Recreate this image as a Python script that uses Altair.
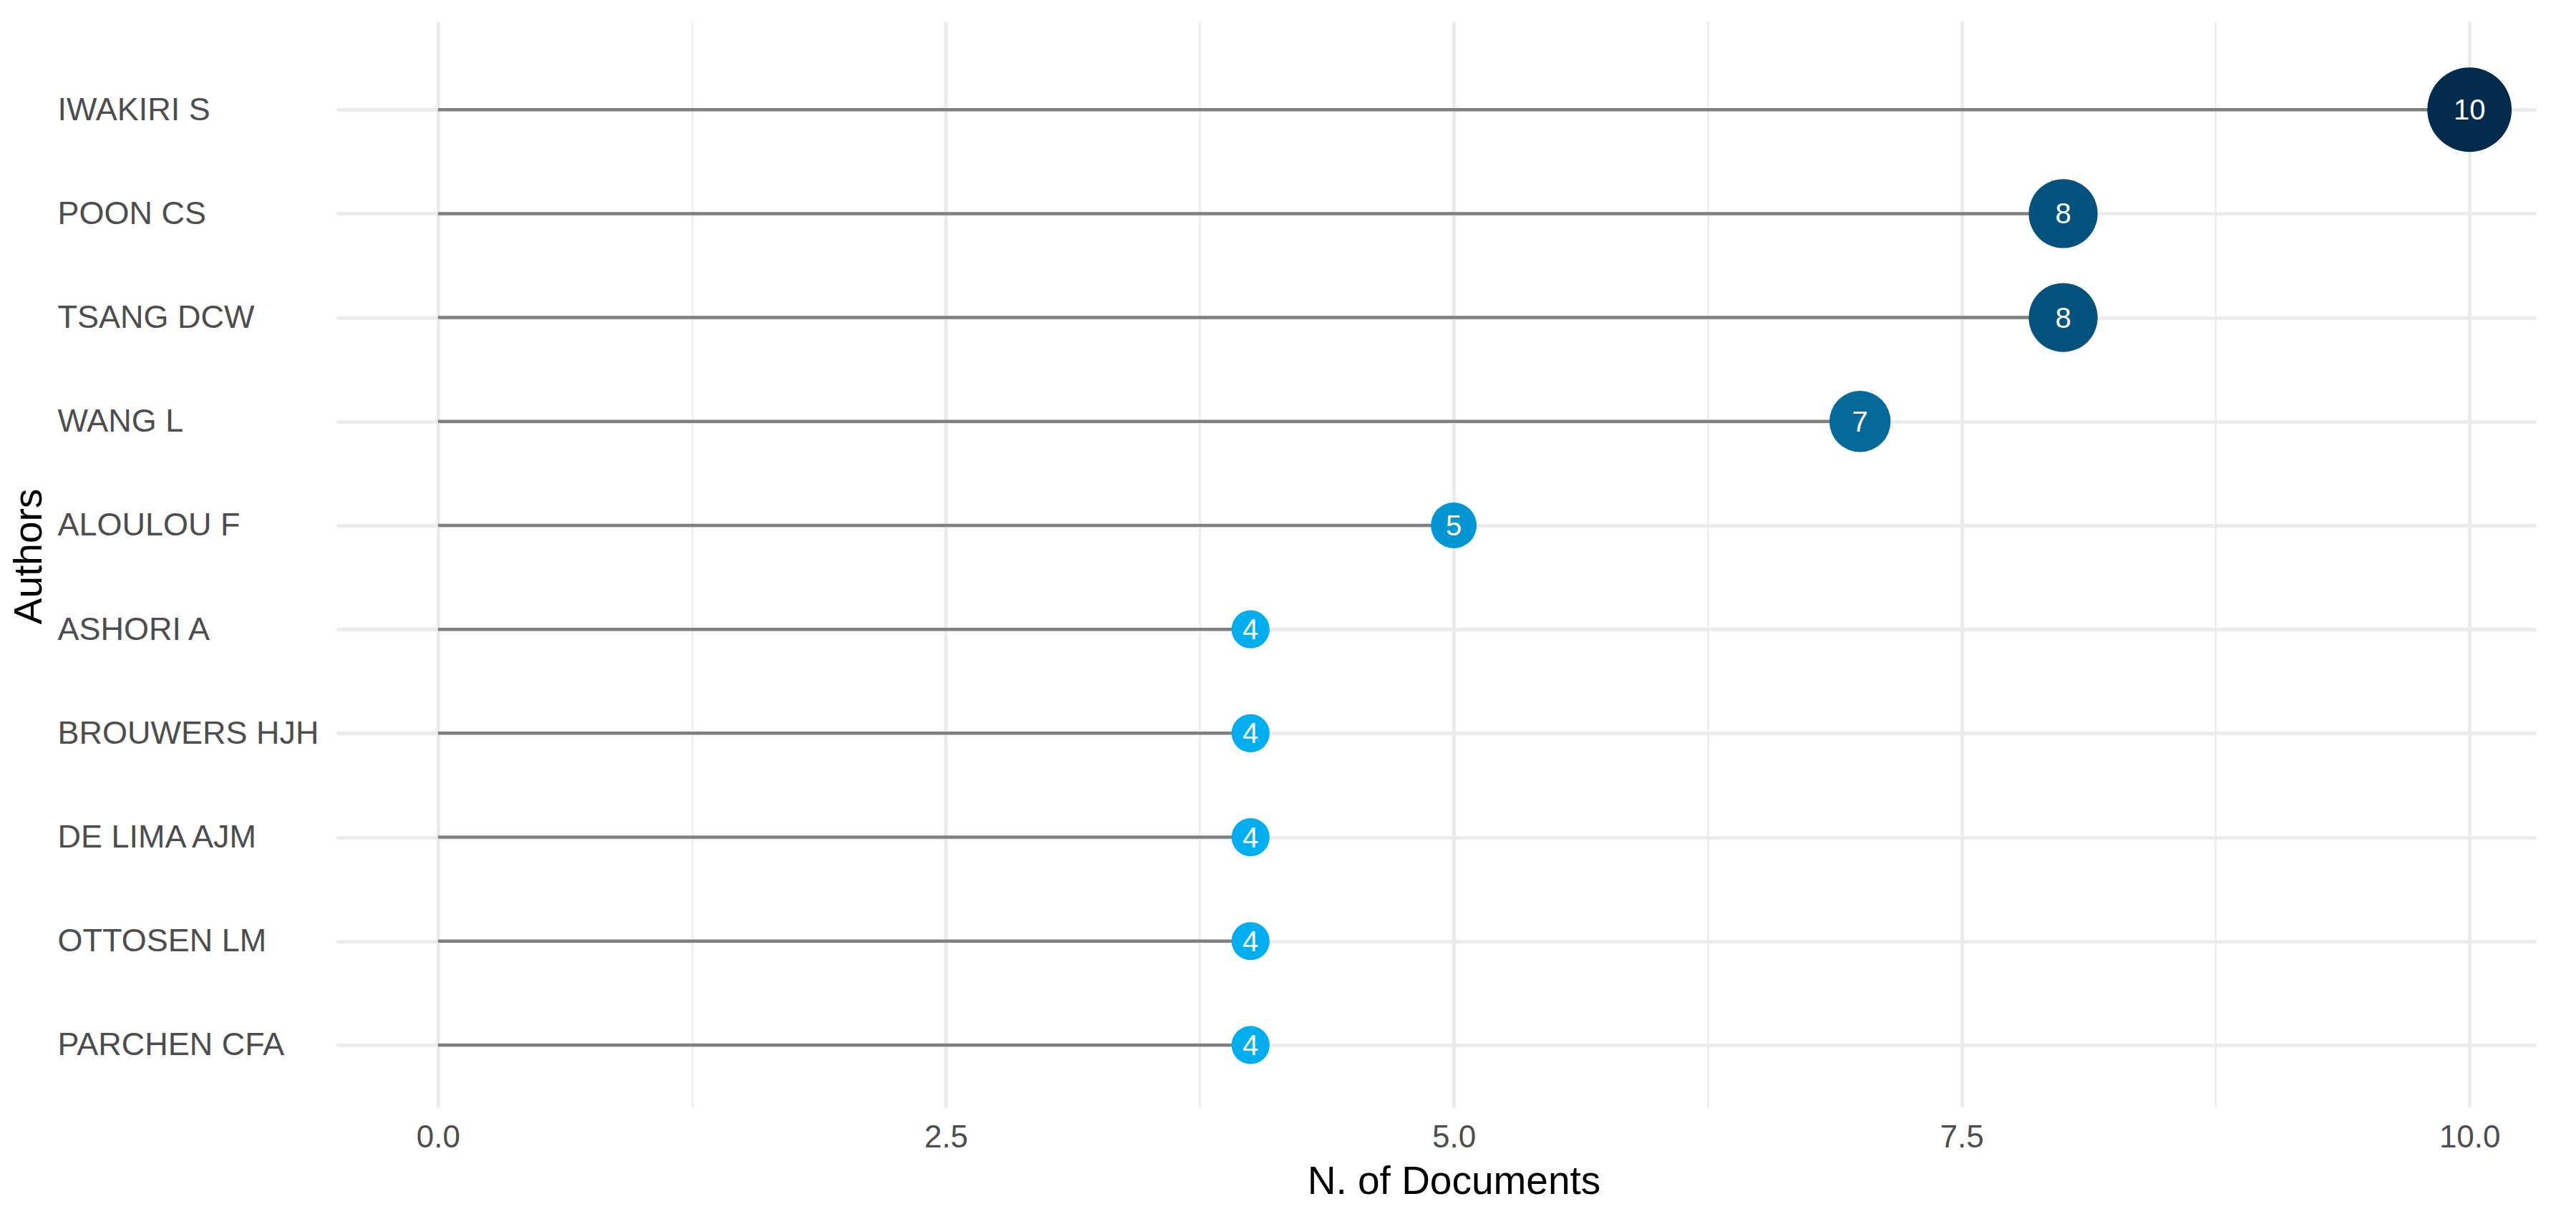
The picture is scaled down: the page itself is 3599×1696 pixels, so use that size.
import altair as alt
import pandas as pd

authors = ["IWAKIRI S", "POON CS", "TSANG DCW", "WANG L", "ALOULOU F",
           "ASHORI A", "BROUWERS HJH", "DE LIMA AJM", "OTTOSEN LM", "PARCHEN CFA"]
documents = [10, 8, 8, 7, 5, 4, 4, 4, 4, 4]
major_ticks = [0, 2.5, 5, 7.5, 10]
minor_ticks = [1.25, 3.75, 6.25, 8.75]

df = pd.DataFrame({"author": authors, "docs": documents})
df["start"] = 0

FONT = "Liberation Sans"
xscale = alt.Scale(domain=[-0.5, 10.327], nice=False, zero=False)
yscale = alt.Scale(type="point", domain=authors, padding=0.724, align=0.586)

y_axis = alt.Axis(title="Authors", labelAlign="left", labelBaseline="middle",
                  labelPadding=390, labelLimit=1000, tickSize=0, ticks=False,
                  domain=False, grid=True, gridColor="#EBEBEB", gridWidth=5,
                  labelFont=FONT, labelFontSize=45, labelColor="#4D4D4D",
                  titleFont=FONT, titleFontSize=55, titleColor="#000000",
                  titleFontWeight="normal", titleAngle=-90,
                  titleX=-430, titleY=747, titleAlign="center",
                  titleBaseline="middle")


def y_enc():
    return alt.Y("author:N", scale=yscale, sort=authors, axis=y_axis)


segments = alt.Chart(df).mark_rule(color="#7F7F7F", strokeWidth=4.5).encode(
    x=alt.X("start:Q", scale=xscale,
            axis=alt.Axis(orient="top", values=minor_ticks, grid=True,
                          gridColor="#EFEFEF", gridWidth=3, labels=False,
                          ticks=False, domain=False, title=None)),
    x2="docs:Q",
    y=y_enc(),
)

points = alt.Chart(df).transform_calculate(
    area="PI/4*pow(60 + (datum.docs - 4)*73/6, 2)"
).mark_circle(opacity=1).encode(
    x=alt.X("docs:Q", scale=xscale,
            axis=alt.Axis(orient="bottom", values=major_ticks, format=".1f",
                          grid=True, gridColor="#EBEBEB", gridWidth=5,
                          ticks=False, domain=False, labelPadding=42,
                          labelBaseline="middle",
                          labelFont=FONT, labelFontSize=44, labelColor="#4D4D4D",
                          title="N. of Documents", titleFont=FONT, titleFontSize=55,
                          titleColor="#000000", titleFontWeight="normal",
                          titleX=1561, titleY=103, titleAlign="center",
                          titleBaseline="middle")),
    y=y_enc(),
    size=alt.Size("area:Q", scale=None, legend=None),
    color=alt.Color("docs:Q", scale=alt.Scale(domain=[4, 10],
                    range=["#00AEEF", "#022B4D"], interpolate="lab"), legend=None),
)

labels = alt.Chart(df).mark_text(color="white", fontSize=40, font=FONT,
                                 baseline="middle", align="center", dy=2).encode(
    x=alt.X("docs:Q", scale=xscale, axis=None),
    y=y_enc(),
    text="docs:Q",
)

chart = alt.layer(segments, points, labels).properties(
    width=3073, height=1517,
    padding={"left": 462, "top": 22, "right": 40, "bottom": 145},
    autosize=alt.AutoSizeParams(type="none"),
).configure(background="white").configure_view(stroke=None)

chart.save("out.html", embed_options={"renderer": "svg", "actions": False})
